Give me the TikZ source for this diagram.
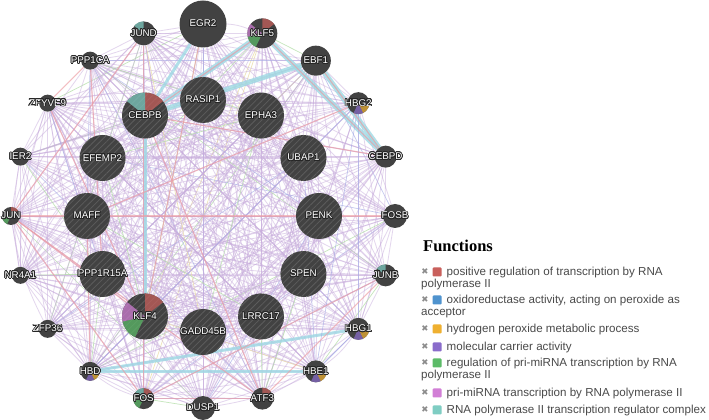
\documentclass[tikz,border=0pt]{standalone}
\usepackage{fontspec}
\setmainfont{Liberation Sans}
\newfontfamily\headfont{Liberation Serif}
\newfontfamily\iconfont{DejaVu Sans}
\usepackage[copies]{contour}
\contourlength{0.75pt}
\usetikzlibrary{backgrounds,patterns.meta}

\definecolor{nodegray}{HTML}{424242}
\definecolor{hatchgray}{HTML}{5C5C5C}
\definecolor{fnred}{HTML}{C9605C}
\definecolor{fnblue}{HTML}{4F93CE}
\definecolor{fnorange}{HTML}{EFB030}
\definecolor{fnpurple}{HTML}{8A6CCB}
\definecolor{fngreen}{HTML}{5CBB68}
\definecolor{fnpink}{HTML}{D27FD6}
\definecolor{fnteal}{HTML}{7FCDC3}
\definecolor{coexp}{HTML}{C9AEDD}
\definecolor{physint}{HTML}{EE9CA2}
\definecolor{pathw}{HTML}{9ED9E4}
\definecolor{genint}{HTML}{B2DEA6}
\definecolor{coloc}{HTML}{A6ACE6}
\definecolor{predict}{HTML}{EADDA8}
\definecolor{legtext}{HTML}{4A4A4A}

\tikzset{
  gene/.style={circle, fill=nodegray, inner sep=0pt, minimum size=#1},
  query/.style={gene=46pt, postaction={pattern={Lines[angle=45,distance=4.5pt,line width=.8pt]}, pattern color=hatchgray}},
  glabel/.style={text=white, inner sep=0pt, font=\fontsize{9.8}{11}\selectfont},
  coex/.style={coexp, line width=.8pt, opacity=.5},
  phys/.style={physint, line width=1.1pt, opacity=.65},
  pway/.style={pathw, opacity=.8},
  gint/.style={genint, line width=.7pt, opacity=.75},
  cloc/.style={coloc, line width=.7pt, opacity=.65},
  pred/.style={predict, line width=.7pt, opacity=.8},
  fnmark/.style={text=gray!90, inner sep=0pt, font=\iconfont\fontsize{8.5}{9}\selectfont},
  fnbox/.style={minimum size=9pt, inner sep=0pt, rounded corners=1pt},
  fntext/.style={text=legtext, inner sep=0pt, anchor=base west, font=\fontsize{11.6}{13}\selectfont}
}

% node, radius (pt), slot 0..6 clockwise from top, colour
\newcommand\fnslice[4]{%
  \fill[#4, opacity=.72] (#1.center) -- ++({90-#3*360/7}:#2pt)
    arc[start angle={90-#3*360/7}, end angle={90-(#3+1)*360/7}, radius=#2pt] -- cycle;}

\begin{document}
\begin{tikzpicture}[x=1pt,y=1pt]
\useasboundingbox (0,0) rectangle (709,420);

% outer ring
\foreach \gene/\dia [count=\k from 0] in {EGR2/47,KLF5/30,EBF1/30,HBG2/22,CEBPD/22,FOSB/24,JUNB/22,HBG1/22,HBE1/22,ATF3/22,DUSP1/24,FOS/21,HBD/19,ZFP36/18,NR4A1/17,JUN/18,IER2/18,ZFYVE9/17,PPP1CA/18,JUND/24}
  \node[gene=\dia pt, alias=v\k] (\gene) at ([shift={(203,204)}]{90-18*\k}:192) {};

% query genes
\foreach \gene [count=\k from 0, evaluate=\k as \m using int(\k+20)] in {RASIP1,EPHA3,UBAP1,PENK,SPEN,LRRC17,GADD45B,KLF4,PPP1R15A,MAFF,EFEMP2,CEBPB}
  \node[query, alias=v\m] (\gene) at ([shift={(203,204)}]{90-30*\k}:116) {};

\begin{scope}[on background layer]
\fill[white] (0,0) rectangle (709,420);
\pgfmathsetseed{20}
\foreach \i in {0,...,30}{
  \pgfmathtruncatemacro\s{\i+1}
  \foreach \j in {\s,...,31}{
    \pgfmathsetmacro\rv{rnd}
    \ifdim\rv pt<0.7pt \draw[coex] (v\i) -- (v\j);
    \else\ifdim\rv pt<0.74pt \draw[gint] (v\i) -- (v\j);
    \else\ifdim\rv pt<0.77pt \draw[pred] (v\i) -- (v\j);
    \else\ifdim\rv pt<0.8pt \draw[cloc] (v\i) -- (v\j);
    \fi\fi\fi\fi
    \pgfmathsetmacro\rv{rnd}
    \ifdim\rv pt<0.25pt \draw[coex] (v\i) to[bend left=9] (v\j);\fi
  }
}
\foreach \a/\b in {KLF5/CEBPB,EBF1/CEBPB,KLF5/CEBPD,EBF1/CEBPD}
  \draw[pway, line width=5pt] (\a) -- (\b);
\foreach \a/\b in {EGR2/CEBPB,CEBPB/KLF4,HBD/HBE1,HBD/HBG1}
  \draw[pway, line width=3pt] (\a) -- (\b);
\foreach \a/\b in {HBE1/HBG1,HBG2/HBG1,HBG2/HBE1,HBG2/HBD}
  \draw[cloc] (\a) -- (\b);
\foreach \a/\b in {PPP1CA/PPP1R15A,PPP1CA/ZFYVE9,ZFYVE9/KLF4,KLF5/CEBPB,KLF5/CEBPD,EBF1/CEBPD,HBG2/MAFF,HBD/MAFF,JUN/FOS,JUN/ATF3,JUN/KLF4,FOS/JUNB,FOS/JUND,JUN/JUND,FOSB/JUN,ATF3/FOS,ATF3/CEBPB,EGR2/KLF4,JUNB/ATF3,CEBPD/CEBPB}
  \draw[phys] (\a) -- (\b);
\end{scope}

% function slices
\fnslice{CEBPB}{23}{0}{fnred}
\fnslice{CEBPB}{23}{6}{fnteal}
\fnslice{KLF4}{23}{0}{fnred}
\fnslice{KLF4}{23}{4}{fngreen}
\fnslice{KLF4}{23}{5}{fnpink}
\fnslice{KLF5}{15}{0}{fnred}
\fnslice{KLF5}{15}{4}{fngreen}
\fnslice{KLF5}{15}{5}{fnpink}
\fnslice{JUND}{12}{6}{fnteal}
\fnslice{JUNB}{11}{6}{fnteal}
\fnslice{JUN}{9}{0}{fnred}
\fnslice{JUN}{9}{4}{fngreen}
\fnslice{FOS}{10.5}{0}{fnred}
\fnslice{FOS}{10.5}{4}{fngreen}
\fnslice{FOS}{10.5}{6}{fnteal}
\fnslice{ATF3}{11}{0}{fnred}
\foreach \gene/\rad in {HBG2/11,HBG1/11,HBE1/11,HBD/9.5}{
  \fnslice{\gene}{\rad}{2}{fnorange}
  \fnslice{\gene}{\rad}{3}{fnpurple}
}

% gene names
\foreach \gene in {EGR2,KLF5,EBF1,HBG2,CEBPD,FOSB,JUNB,HBG1,HBE1,ATF3,DUSP1,FOS,HBD,ZFP36,NR4A1,JUN,IER2,ZFYVE9,PPP1CA,JUND,RASIP1,EPHA3,UBAP1,PENK,SPEN,LRRC17,GADD45B,KLF4,PPP1R15A,MAFF,EFEMP2,CEBPB}
  \node[glabel] (\gene-lbl) at (\gene) {\contour{black!85}{\gene}};

% legend
\node[anchor=base west, inner sep=0pt, font=\headfont\bfseries\fontsize{16.5}{18}\selectfont] (fnhead) at (423,168) {Functions};
\foreach \col/\y/\first/\second [count=\n] in {
  fnred/148/{positive regulation of transcription by RNA}/{polymerase II},
  fnblue/120/{oxidoreductase activity, acting on peroxide as}/{acceptor},
  fnorange/91/{hydrogen peroxide metabolic process}/{},
  fnpurple/73/{molecular carrier activity}/{},
  fngreen/57/{regulation of pri-miRNA transcription by RNA}/{polymerase II},
  fnpink/27/{pri-miRNA transcription by RNA polymerase II}/{},
  fnteal/10/{RNA polymerase II transcription regulator complex}/{}}{
  \node[fnmark] (x\n) at (425,\y) {✖};
  \node[fnbox, fill=\col] (b\n) at (437,\y) {};
  \node[fntext] (f\n) at (446.5,\y-4) {\first};
  \node[fntext] (g\n) at (421,\y-15.5) {\second};
}
\end{tikzpicture}
\end{document}
